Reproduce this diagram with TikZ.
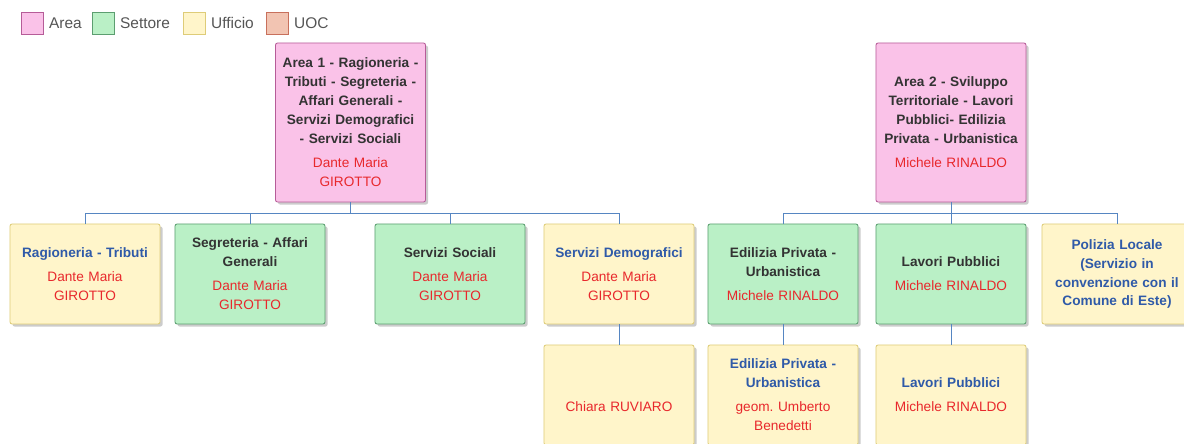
\documentclass[tikz,border=0pt]{standalone}
\usepackage{fontspec}
\setmainfont{Liberation Sans}
\usetikzlibrary{positioning,shadows}

\definecolor{areaFill}{RGB}{250,194,232}
\definecolor{areaLine}{RGB}{182,92,152}
\definecolor{setFill}{RGB}{186,240,198}
\definecolor{setLine}{RGB}{92,158,112}
\definecolor{uffFill}{RGB}{255,245,202}
\definecolor{uffLine}{RGB}{222,204,120}
\definecolor{uocFill}{RGB}{242,196,178}
\definecolor{uocLine}{RGB}{200,112,92}
\definecolor{linkBlue}{RGB}{86,134,194}
\definecolor{titleGray}{RGB}{51,51,51}
\definecolor{titleBlue}{RGB}{47,90,168}
\definecolor{nameRed}{RGB}{232,40,44}
\definecolor{legGray}{RGB}{85,85,85}

\tikzset{
  box/.style={rectangle, draw, line width=0.6pt, rounded corners=1.5pt,
    text width=3.55cm, inner xsep=0.1cm, minimum height=2.5cm, align=center,
    font=\fontsize{9.7}{13.5}\selectfont,
    drop shadow={shadow xshift=1.8pt, shadow yshift=-1.8pt, opacity=0.4}},
  areabox/.style={box, fill=areaFill, draw=areaLine, text=titleGray, minimum height=3.975cm},
  settbox/.style={box, fill=setFill, draw=setLine, text=titleGray},
  uffbox/.style={box, fill=uffFill, draw=uffLine, text=titleBlue},
  legbox/.style={rectangle, draw, line width=0.6pt, minimum size=0.55cm, inner sep=0pt},
  legtext/.style={right=0.1cm of #1, inner sep=1pt, text=legGray, font=\fontsize{11}{12}\selectfont},
  conn/.style={draw=linkBlue, line width=0.5pt}
}
\newcommand{\unita}[2]{{\bfseries #1}\\[3.5pt]{\color{nameRed}#2}}

\begin{document}
\begin{tikzpicture}[x=0.025cm, y=-0.025cm]
\useasboundingbox (0,0) rectangle (1184,444);
\clip (0,0) rectangle (1184,444);

% legenda
\node[legbox, fill=areaFill, draw=areaLine] (kArea) at (32,23) {};
\node[legtext=kArea] {Area};
\node[legbox, fill=setFill, draw=setLine] (kSett) at (103,23) {};
\node[legtext=kSett] {Settore};
\node[legbox, fill=uffFill, draw=uffLine] (kUff) at (194,23) {};
\node[legtext=kUff] {Ufficio};
\node[legbox, fill=uocFill, draw=uocLine] (kUoc) at (277,23) {};
\node[legtext=kUoc] {UOC};

% aree
\node[areabox] (a1) at (350.5,122.5) {\unita{Area 1 - Ragioneria -\\Tributi - Segreteria -\\Affari Generali -\\Servizi Demografici\\- Servizi Sociali}{Dante Maria\\GIROTTO}};
\node[areabox] (a2) at (951,122.5) {\unita{Area 2 - Sviluppo\\Territoriale - Lavori\\Pubblici- Edilizia\\Privata - Urbanistica}{Michele RINALDO}};

% primo livello
\node[uffbox] (rag) at (85,274) {\unita{Ragioneria - Tributi}{Dante Maria\\GIROTTO}};
\node[settbox] (seg) at (250,274) {\unita{Segreteria - Affari\\Generali}{Dante Maria\\GIROTTO}};
\node[settbox] (soc) at (450,274) {\unita{Servizi Sociali}{Dante Maria\\GIROTTO}};
\node[uffbox] (demo) at (619,274) {\unita{Servizi Demografici}{Dante Maria\\GIROTTO}};
\node[settbox] (edil) at (783,274) {\unita{Edilizia Privata -\\Urbanistica}{Michele RINALDO}};
\node[settbox] (lav) at (951,274) {\unita{Lavori Pubblici}{Michele RINALDO}};
\node[uffbox] (pol) at (1117,274) {\bfseries Polizia Locale\\(Servizio in\\convenzione con il\\Comune di Este)};

% secondo livello
\node[uffbox] (chiara) at (619,395) {\unita{\phantom{Lp}}{Chiara RUVIARO}};
\node[uffbox] (edilU) at (783,395) {\unita{Edilizia Privata -\\Urbanistica}{geom.\ Umberto\\Benedetti}};
\node[uffbox] (lavU) at (951,395) {\unita{Lavori Pubblici}{Michele RINALDO}};

% collegamenti
\coordinate (bus1) at (350.5,213);
\coordinate (bus2) at (951,213);
\draw[conn] (a1.south) -- (bus1);
\draw[conn] (a2.south) -- (bus2);
\foreach \c in {rag,seg,soc,demo}
  \draw[conn] (bus1) -| (\c.north);
\foreach \c in {edil,lav,pol}
  \draw[conn] (bus2) -| (\c.north);
\draw[conn] (demo.south) -- (chiara.north);
\draw[conn] (edil.south) -- (edilU.north);
\draw[conn] (lav.south) -- (lavU.north);
\end{tikzpicture}
\end{document}
